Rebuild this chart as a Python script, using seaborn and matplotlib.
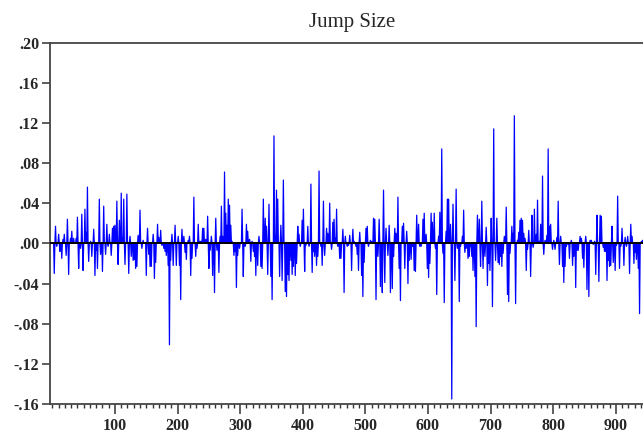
import numpy as np
import pandas as pd
import matplotlib
matplotlib.use("Agg")
import matplotlib.pyplot as plt
import seaborn as sns
from matplotlib.ticker import FixedLocator, MultipleLocator

# ---------------- data ----------------
title = "Jump Size"
n_obs = 945

jump_obs = [
    3, 5, 7, 10, 12, 15, 17, 19, 22, 24, 26, 29, 31, 34, 38, 40, 42, 45, 47, 49,
    52, 54, 56, 58, 61, 63, 66, 68, 70, 72, 75, 77, 80, 82, 85, 87, 89, 91, 94, 96,
    98, 100, 103, 105, 107, 110, 112, 114, 116, 119, 122, 124, 126, 129, 131, 133, 135, 137, 140, 143,
    145, 150, 152, 154, 156, 158, 161, 163, 165, 168, 170, 173, 175, 178, 180, 182, 185, 187, 189, 191,
    193, 196, 198, 201, 203, 205, 207, 210, 212, 214, 217, 219, 221, 223, 226, 229, 231, 233, 236, 238,
    240, 242, 245, 248, 250, 252, 254, 256, 259, 261, 263, 266, 268, 270, 272, 275, 277, 279, 281, 283,
    285, 287, 290, 292, 294, 296, 299,
    303, 305, 308, 310, 312, 315, 317, 319, 321, 323, 325, 328, 330, 333, 335, 337, 340, 342, 344, 346,
    349, 351, 354, 356, 358, 360, 363, 365, 367, 369, 372, 374, 376, 378, 381, 383, 385, 388, 390, 392,
    394, 396, 399, 401, 403, 405, 408, 410, 413, 415, 417, 419, 422, 424, 426, 429, 431, 433, 435, 438,
    440, 443,
    446, 448, 450, 452, 454, 456, 459, 461, 464, 466, 468, 471, 473, 475, 478, 480, 482, 485, 487, 489,
    491, 494, 496, 498, 501, 503, 505, 508, 510, 513, 515, 517, 520, 522, 524, 527, 529, 531, 533, 536,
    538, 540, 543, 545, 547, 549, 552, 554, 556, 559, 561, 563, 566, 568, 570, 573, 575, 578, 580, 582,
    585, 587, 589, 592, 594, 597,
    599, 601, 603, 605, 607, 610, 612, 614, 617, 619, 622, 624, 626, 629, 631, 633, 636, 638, 640, 643,
    645, 647, 650, 652, 655, 657, 659, 661, 664, 666, 668, 670, 672, 675, 677, 679, 682, 684, 686, 688,
    691, 693, 695, 697, 699, 701, 703, 705, 708, 710, 712, 714, 716, 718, 720, 722, 725, 727, 729, 731,
    734, 736, 738, 740, 743, 745, 747, 749, 751, 753,
    755, 757, 759, 761, 764, 766, 768, 770, 773, 775, 778, 780, 783, 785, 787, 790, 792, 794, 796, 799,
    801, 803, 806, 808, 810, 812, 815, 817, 819, 821, 824, 826, 829, 831, 833, 836, 838, 840, 843, 845,
    847, 849, 852, 854, 857, 859, 861, 864, 866, 868, 870, 873, 875, 877, 880, 882, 884, 886, 888, 890,
    892, 894, 896, 899, 901, 903, 906, 908, 910, 913, 915, 917, 919, 922, 924, 926, 929, 931, 933, 936,
    938, 941, 943,
]

jump_val = [
    -0.030, 0.017, -0.003, 0.009, -0.008, -0.015, 0.004, 0.009, -0.012, 0.024, -0.031, 0.005, 0.012, 0.005, 0.005, 0.026, -0.025, -0.005, 0.029, -0.027,
    0.034, 0.011, 0.056, -0.018, 0.002, -0.013, 0.014, -0.032, -0.007, -0.025, 0.044, -0.011, -0.028, 0.037, -0.011, 0.019, -0.003, 0.009, -0.012, 0.015,
    0.017, 0.018, 0.042, -0.021, 0.023, 0.050, 0.005, 0.044, -0.021, 0.049, -0.030, 0.007, -0.013, -0.017, -0.016, -0.025, -0.023, 0.008, 0.033, -0.005,
    0.003, -0.032, 0.015, -0.011, -0.023, -0.023, 0.009, -0.035, -0.019, 0.019, 0.006, 0.013, -0.002, -0.005, -0.008, -0.012, -0.022, -0.101, -0.017, 0.009,
    -0.022, 0.018, -0.022, 0.007, -0.022, -0.056, 0.014, 0.007, -0.009, -0.016, 0.003, 0.007, -0.032, -0.015, 0.046, -0.013, -0.005, 0.019, 0.002, 0.002,
    0.015, 0.015, 0.004, 0.027, -0.025, -0.007, 0.007, -0.032, -0.049, 0.025, -0.007, -0.029, 0.007, 0.037, 0.007, 0.071, 0.030, 0.018, 0.044, 0.038,
    0.018, 0.002, -0.012, -0.008, -0.044, -0.012, -0.005,
    0.034, -0.033, -0.003, 0.019, 0.012, 0.004, -0.018, 0.002, -0.008, -0.013, -0.032, -0.022, 0.007, -0.023, -0.025, 0.044, 0.025, 0.017, -0.031, 0.039,
    -0.033, -0.056, 0.107, 0.007, 0.053, 0.044, -0.033, 0.018, -0.037, 0.063, -0.048, -0.053, -0.031, -0.037, -0.017, -0.031, -0.023, -0.032, -0.020, 0.017,
    0.009, -0.003, 0.023, 0.034, -0.028, -0.002, 0.017, -0.003, 0.059, -0.029, -0.008, -0.013, -0.022, -0.013, 0.072, -0.003, -0.022, 0.042, -0.012, 0.015,
    0.010, 0.040,
    -0.006, 0.021, 0.024, 0.005, 0.034, -0.003, -0.015, -0.015, 0.014, -0.049, 0.007, -0.003, -0.002, 0.008, -0.027, 0.014, 0.002, -0.003, -0.011, -0.027,
    0.011, -0.032, -0.053, -0.019, 0.015, 0.017, -0.003, 0.003, 0.002, 0.025, 0.024, -0.056, -0.013, 0.024, -0.043, -0.049, 0.053, -0.039, 0.015, -0.012,
    0.018, -0.049, -0.045, -0.013, 0.015, 0.010, 0.046, -0.025, -0.057, 0.017, 0.020, -0.025, 0.012, -0.040, -0.017, -0.016, -0.003, -0.027, -0.028, 0.028,
    0.019, -0.003, -0.003, 0.024, 0.030, 0.009,
    -0.025, -0.034, -0.020, 0.030, 0.021, 0.030, -0.005, -0.051, 0.007, 0.031, 0.094, -0.010, -0.059, 0.012, 0.044, 0.044, 0.019, -0.155, 0.039, -0.037,
    0.054, -0.005, -0.058, -0.003, 0.007, 0.033, -0.009, -0.005, -0.015, -0.013, -0.003, -0.013, -0.027, -0.033, -0.083, 0.028, 0.024, -0.023, 0.042, -0.025,
    -0.013, 0.016, -0.042, -0.020, -0.027, 0.025, -0.063, 0.114, -0.017, 0.025, -0.019, -0.021, -0.013, -0.023, -0.010, 0.007, 0.036, -0.051, -0.058, -0.010,
    0.017, 0.010, 0.127, -0.060, 0.003, 0.011, 0.023, 0.025, 0.023, 0.010,
    0.005, -0.027, -0.006, 0.013, -0.033, 0.028, -0.004, 0.034, 0.009, 0.043, 0.002, 0.019, 0.067, -0.011, 0.003, 0.008, 0.094, 0.017, 0.019, -0.006,
    0.003, -0.006, 0.006, 0.042, -0.021, 0.007, -0.023, -0.039, -0.023, -0.003, -0.001, -0.015, 0.003, -0.022, -0.013, -0.044, -0.007, -0.007, 0.007, 0.005,
    -0.015, -0.024, 0.007, -0.046, -0.053, 0.003, 0.003, -0.001, 0.002, -0.031, 0.028, -0.038, 0.028, 0.027, -0.004, -0.008, -0.008, -0.037, -0.017, -0.023,
    -0.022, 0.017, -0.019, -0.027, -0.002, 0.047, -0.025, -0.003, 0.015, -0.022, 0.006, -0.003, 0.007, -0.030, 0.019, 0.007, -0.020, -0.009, -0.016, -0.025,
    -0.070, 0.002, 0.003,
]

y_ticks = [0.20, 0.16, 0.12, 0.08, 0.04, 0.00, -0.04, -0.08, -0.12, -0.16]
y_tick_labels = [".20", ".16", ".12", ".08", ".04", ".00", "-.04", "-.08", "-.12", "-.16"]
x_ticks = [100, 200, 300, 400, 500, 600, 700, 800, 900]
x_tick_labels = ["100", "200", "300", "400", "500", "600", "700", "800", "900"]

# ---------------- build series ----------------
series = np.zeros(n_obs)
series[np.array(jump_obs) - 1] = jump_val
df = pd.DataFrame({"obs": np.arange(1, n_obs + 1), "jump": series})

# ---------------- plot ----------------
sns.set_style("white")
plt.rcParams["font.family"] = ["Liberation Serif", "DejaVu Serif"]

W, H = 643, 437
fig = plt.figure(figsize=(W / 100, H / 100), dpi=100)
ax = fig.add_axes([50 / W, 33 / H, 1 - 50 / W, 361.5 / H])

sns.lineplot(data=df, x="obs", y="jump", color="#0000ff", linewidth=0.9, ax=ax)
ax.axhline(0, color="black", linewidth=1.4, zorder=3)

ax.set_xlim(-3.8, 943.5)
ax.set_ylim(-0.16, 0.20)

ax.yaxis.set_major_locator(FixedLocator(y_ticks))
ax.set_yticklabels(y_tick_labels, fontsize=11.5, fontweight="bold")
ax.xaxis.set_major_locator(FixedLocator(x_ticks))
ax.set_xticklabels(x_tick_labels, fontsize=11.5, fontweight="bold")
ax.xaxis.set_minor_locator(MultipleLocator(10))

ax.tick_params(axis="y", which="major", direction="out", length=6, width=1.1,
               color="#333333", pad=2, left=True)
ax.tick_params(axis="x", which="major", direction="out", length=7, width=1.1,
               color="#333333", pad=3, bottom=True)
ax.tick_params(axis="x", which="minor", direction="out", length=3, width=1.0,
               color="#333333", bottom=True)

for side in ["left", "bottom", "top"]:
    ax.spines[side].set_color("#444444")
    ax.spines[side].set_linewidth(1.3)
ax.spines["right"].set_visible(False)

ax.set_xlabel("")
ax.set_ylabel("")
fig.text(352 / W, 1 - 22 / H, title, ha="center", va="center", fontsize=15)

fig.savefig("out.png", dpi=100)
